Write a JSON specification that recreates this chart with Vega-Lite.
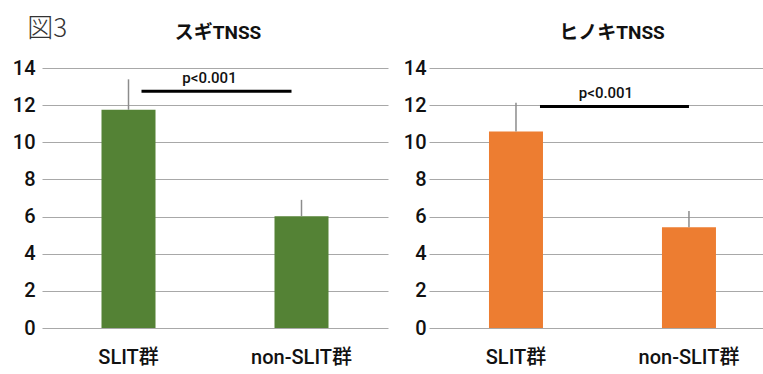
{
  "$schema": "https://vega.github.io/schema/vega-lite/v6.json",
  "padding": {"left": 12, "top": 16, "right": 0, "bottom": 0},
  "spacing": 15,
  "title": {"text": "図3", "anchor": "start", "offset": -18, "dx": 15, "fontSize": 26, "fontWeight": 300, "color": "#333333", "font": "Noto Sans CJK JP"},
  "config": {
    "font": "Roboto, Noto Sans CJK JP, sans-serif",
    "view": {"stroke": null},
    "title": {"fontSize": 19, "fontWeight": "bold", "color": "#111111", "font": "Roboto, Noto Sans CJK JP"},
    "axis": {"labelColor": "#111111", "labelFont": "Roboto, Noto Sans CJK JP", "labelOverlap": false, "labelFontWeight": 500}
  },
  "datasets": {
    "bars": [
      {"panel": "スギ", "group": "SLIT群", "mean": 11.75, "upper": 13.39},
      {"panel": "スギ", "group": "non-SLIT群", "mean": 6.02, "upper": 6.9},
      {"panel": "ヒノキ", "group": "SLIT群", "mean": 10.58, "upper": 12.13},
      {"panel": "ヒノキ", "group": "non-SLIT群", "mean": 5.42, "upper": 6.3}
    ],
    "sig": [
      {"panel": "スギ", "from": "SLIT群", "to": "non-SLIT群", "y": 12.75, "ty": 13.2, "label": "p<0.001"},
      {"panel": "ヒノキ", "from": "SLIT群", "to": "non-SLIT群", "y": 11.93, "ty": 12.37, "label": "p<0.001"}
    ]
  },
  "hconcat": [
    {
      "width": 346,
      "height": 260,
      "title": {"text": "スギTNSS", "offset": 15, "dx": 3},
      "layer": [
        {
          "data": {"name": "bars"},
          "transform": [{"filter": "datum.panel === 'スギ'"}],
          "mark": {"type": "bar", "size": 54, "color": "#548235"},
          "encoding": {
            "x": {"field": "group", "type": "nominal", "sort": ["SLIT群", "non-SLIT群"],
              "scale": {"paddingInner": 0.5, "paddingOuter": 0.25},
              "axis": {"title": null, "labelAngle": 0, "domain": false, "ticks": false, "labelPadding": 19, "labelFontSize": 20}},
            "y": {"field": "mean", "type": "quantitative", "scale": {"domain": [0, 14], "nice": false},
              "axis": {"title": null, "tickCount": 8,
                "values": [0, 2, 4, 6, 8, 10, 12, 14], "grid": true, "gridColor": "#a8a8a8", "gridWidth": 1,
                "domain": false, "ticks": false, "labelPadding": 7, "labelFontSize": 20}}
          }
        },
        {
          "data": {"name": "bars"},
          "transform": [{"filter": "datum.panel === 'スギ'"}],
          "mark": {"type": "rule", "color": "#8c8c8c", "strokeWidth": 1.5},
          "encoding": {
            "x": {"field": "group", "type": "nominal", "sort": ["SLIT群", "non-SLIT群"]},
            "y": {"field": "mean", "type": "quantitative"},
            "y2": {"field": "upper"}
          }
        },
        {
          "data": {"name": "sig"},
          "transform": [{"filter": "datum.panel === 'スギ'"}],
          "mark": {"type": "rule", "color": "#000000", "strokeWidth": 3, "xOffset": 13, "x2Offset": -10},
          "encoding": {
            "x": {"field": "from", "type": "nominal", "sort": ["SLIT群", "non-SLIT群"]},
            "x2": {"field": "to"},
            "y": {"field": "y", "type": "quantitative"}
          }
        },
        {
          "data": {"name": "sig"},
          "transform": [{"filter": "datum.panel === 'スギ'"}],
          "mark": {"type": "text", "fontSize": 15, "fontWeight": 500, "color": "#111111", "dx": 81, "baseline": "alphabetic"},
          "encoding": {
            "x": {"field": "from", "type": "nominal", "sort": ["SLIT群", "non-SLIT群"]},
            "y": {"field": "ty", "type": "quantitative"},
            "text": {"field": "label"}
          }
        }
      ]
    },
    {
      "width": 338,
      "height": 260,
      "title": {"text": "ヒノキTNSS", "offset": 15, "dx": 14},
      "layer": [
        {
          "data": {"name": "bars"},
          "transform": [{"filter": "datum.panel === 'ヒノキ'"}],
          "mark": {"type": "bar", "size": 54, "color": "#ED7D31"},
          "encoding": {
            "x": {"field": "group", "type": "nominal", "sort": ["SLIT群", "non-SLIT群"],
              "scale": {"paddingInner": 0.5, "paddingOuter": 0.227, "align": 0.557},
              "axis": {"title": null, "labelAngle": 0, "domain": false, "ticks": false, "labelPadding": 19, "labelFontSize": 20}},
            "y": {"field": "mean", "type": "quantitative", "scale": {"domain": [0, 14], "nice": false},
              "axis": {"title": null, "tickCount": 8, "values": [0, 2, 4, 6, 8, 10, 12, 14], "grid": true, "gridColor": "#a8a8a8", "gridWidth": 1,
                "domain": false, "ticks": false, "labelPadding": 3, "labelFontSize": 20}}
          }
        },
        {
          "data": {"name": "bars"},
          "transform": [{"filter": "datum.panel === 'ヒノキ'"}],
          "mark": {"type": "rule", "color": "#8c8c8c", "strokeWidth": 1.5},
          "encoding": {
            "x": {"field": "group", "type": "nominal", "sort": ["SLIT群", "non-SLIT群"]},
            "y": {"field": "mean", "type": "quantitative"},
            "y2": {"field": "upper"}
          }
        },
        {
          "data": {"name": "sig"},
          "transform": [{"filter": "datum.panel === 'ヒノキ'"}],
          "mark": {"type": "rule", "color": "#000000", "strokeWidth": 3, "xOffset": 24, "x2Offset": 0},
          "encoding": {
            "x": {"field": "from", "type": "nominal", "sort": ["SLIT群", "non-SLIT群"]},
            "x2": {"field": "to"},
            "y": {"field": "y", "type": "quantitative"}
          }
        },
        {
          "data": {"name": "sig"},
          "transform": [{"filter": "datum.panel === 'ヒノキ'"}],
          "mark": {"type": "text", "fontSize": 15, "fontWeight": 500, "color": "#111111", "dx": 90, "baseline": "alphabetic"},
          "encoding": {
            "x": {"field": "from", "type": "nominal", "sort": ["SLIT群", "non-SLIT群"]},
            "y": {"field": "ty", "type": "quantitative"},
            "text": {"field": "label"}
          }
        }
      ]
    }
  ]
}
